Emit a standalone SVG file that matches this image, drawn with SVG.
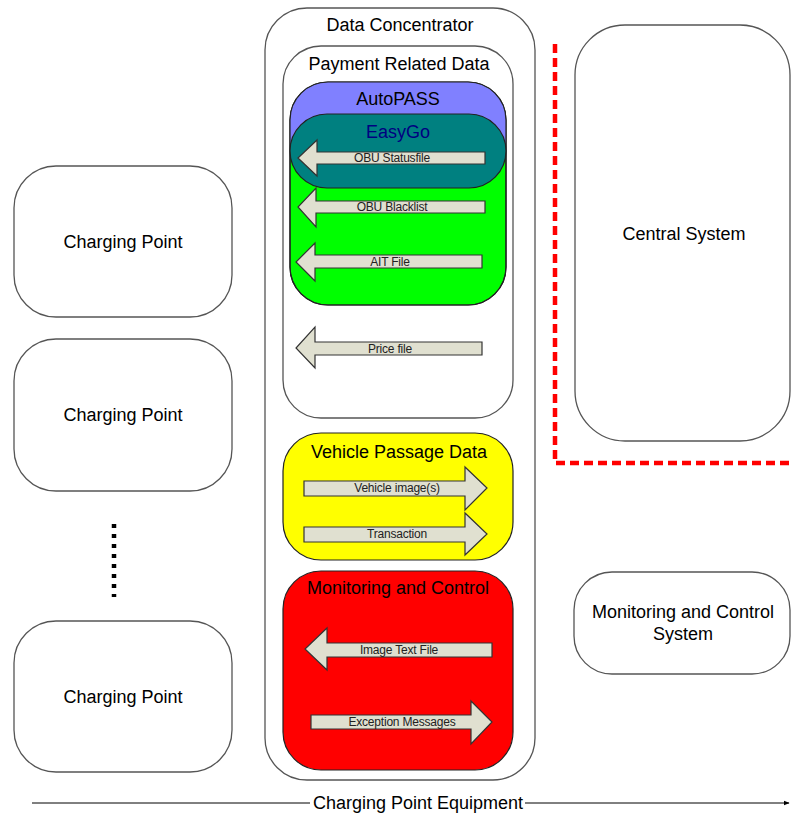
<svg xmlns="http://www.w3.org/2000/svg" width="791" height="815" viewBox="0 0 791 815">
<defs>
<style>
.box{fill:#fff;stroke:#555;stroke-width:1.3}
.inner{stroke:#222;stroke-width:1.2}
.arr{fill:#E0E0D0;stroke:#333;stroke-width:1.2}
.t{font-family:"Liberation Sans",Arial,sans-serif;font-size:18px;fill:#000;text-anchor:middle}
.s{font-family:"Liberation Sans",Arial,sans-serif;font-size:12px;fill:#222;text-anchor:middle;letter-spacing:-0.2px}
</style>
<marker id="ah" viewBox="0 0 10 10" refX="9" refY="5" markerWidth="6" markerHeight="6" orient="auto">
<path d="M0,1 L10,5 L0,9 z" fill="#000"/>
</marker>
</defs>
<rect width="791" height="815" fill="#fff"/>

<g id="cp1"><rect class="box" x="14" y="166" width="218" height="151" rx="42"/><text class="t" x="123" y="248">Charging Point</text></g>
<g id="cp2"><rect class="box" x="14" y="339" width="218" height="152" rx="42"/><text class="t" x="123" y="421">Charging Point</text></g>
<g id="dots"><line x1="114" y1="524" x2="114" y2="597" stroke="#000" stroke-width="4.5" stroke-dasharray="4,6"/></g>
<g id="cp3"><rect class="box" x="14" y="621" width="218" height="151" rx="42"/><text class="t" x="123" y="703">Charging Point</text></g>

<g id="dataConcentrator"><rect class="box" x="265" y="8" width="270" height="772" rx="42"/><text class="t" x="400" y="31">Data Concentrator</text></g>

<g id="paymentData"><rect class="box" x="283" y="46" width="230" height="372" rx="38"/><text class="t" x="399" y="70">Payment Related Data</text></g>

<g id="autopass">
<rect x="290" y="82" width="216" height="223" rx="38" fill="#00FF00" class="inner"/>
<path d="M290,151 L290,120 A38,38 0 0 1 328,82 L468,82 A38,38 0 0 1 506,120 L506,151 Z" fill="#8080FF"/>
<rect x="290" y="82" width="216" height="223" rx="38" fill="none" class="inner"/>
<text class="t" x="398" y="105">AutoPASS</text>
</g>

<g id="easygo"><rect x="290" y="114" width="216" height="74" rx="37" fill="#008080" class="inner"/><text class="t" x="398" y="138" style="fill:#000080">EasyGo</text></g>

<g id="connectors">
<g id="obuStatus"><path class="arr" d="M485,152 L317,152 L317,140 L298,158 L317,176 L317,164 L485,164 Z"/><text class="s" x="392" y="162">OBU Statusfile</text></g>
<g id="obuBlacklist"><path class="arr" d="M485,201 L316,201 L316,188 L298,207 L316,227 L316,213 L485,213 Z"/><text class="s" x="392" y="211">OBU Blacklist</text></g>
<g id="aitFile"><path class="arr" d="M482,255 L315,255 L315,243 L296,262 L315,281 L315,268 L482,268 Z"/><text class="s" x="390" y="266">AIT File</text></g>
<g id="priceFile"><path class="arr" d="M482,342 L315,342 L315,327 L296,348 L315,368 L315,355 L482,355 Z"/><text class="s" x="390" y="353">Price file</text></g>
</g>

<g id="vehiclePassage"><rect x="283" y="433" width="230" height="127" rx="38" fill="#FFFF00" class="inner"/><text class="t" x="399" y="458">Vehicle Passage Data</text></g>
<g id="connectors2">
<g id="vehImg"><path class="arr" d="M304,481 L465,481 L465,467 L487,488 L465,510 L465,496 L304,496 Z"/><text class="s" x="397" y="492">Vehicle image(s)</text></g>
<g id="transaction"><path class="arr" d="M304,527 L465,527 L465,513 L487,534 L465,555 L465,542 L304,542 Z"/><text class="s" x="397" y="538">Transaction</text></g>
</g>

<g id="monitoring"><rect x="283" y="571" width="230" height="199" rx="38" fill="#FF0000" class="inner"/><text class="t" x="398" y="594">Monitoring and Control</text></g>
<g id="connectors3">
<g id="imgText"><path class="arr" d="M492,643 L327,643 L327,628 L305,649 L327,670 L327,657 L492,657 Z"/><text class="s" x="399" y="654">Image Text File</text></g>
<g id="exception"><path class="arr" d="M311,715 L471,715 L471,701 L492,722 L471,744 L471,729 L311,729 Z"/><text class="s" x="402" y="726">Exception Messages</text></g>
</g>

<g id="boundary"><path d="M555,44 L555,463 L791,463" fill="none" stroke="#FF0000" stroke-width="4.5" stroke-dasharray="9,5"/></g>

<g id="centralSystem"><rect class="box" x="575" y="25" width="215" height="416" rx="50"/><text class="t" x="684" y="240">Central System</text></g>

<g id="mcSystem"><rect class="box" x="574" y="572" width="216" height="102" rx="38"/><text class="t" x="683" y="618">Monitoring and Control</text><text class="t" x="683" y="640">System</text></g>

<g id="equipmentAxis">
<line x1="32" y1="803" x2="310" y2="803" stroke="#000" stroke-width="1"/>
<line x1="525" y1="803" x2="789" y2="803" stroke="#000" stroke-width="1" marker-end="url(#ah)"/>
<text class="t" x="418" y="809">Charging Point Equipment</text>
</g>
</svg>
